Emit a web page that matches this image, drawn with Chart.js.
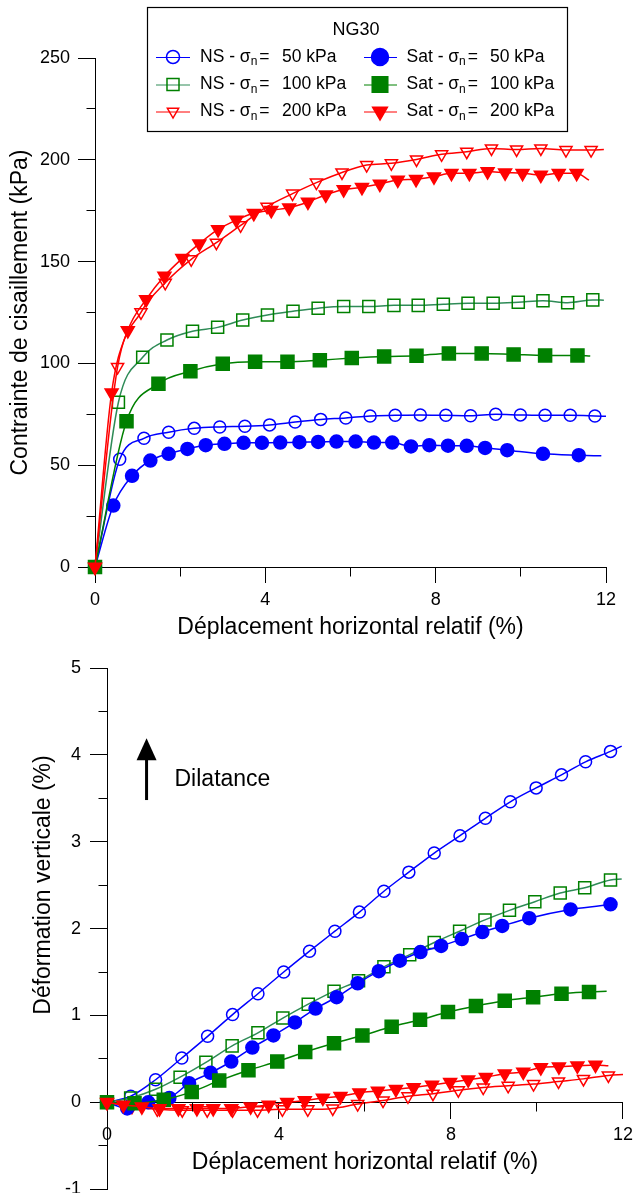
<!DOCTYPE html>
<html>
<head>
<meta charset="utf-8">
<script src="https://cdn.jsdelivr.net/npm/chart.js@4.4.1/dist/chart.umd.min.js"></script>
<style>
  html, body { margin: 0; padding: 0; background: #fff; }
  #wrap { position: relative; width: 639px; height: 1193px; overflow: hidden; }
  canvas { position: absolute; left: 0; }
</style>
</head>
<body>
<div id="wrap">
  <canvas id="shear" width="639" height="645" style="top:0"></canvas>
  <canvas id="dilat" width="639" height="564" style="top:645px"></canvas>
</div>
<script>
// ---- axis ticks ----
const dispTicks = [0, 4, 8, 12];
const dispMinor = [2, 6, 10];
const shearTicks = [0, 50, 100, 150, 200, 250];
const shearMinor = [25, 75, 125, 175, 225];
const dilTicks = [-1, 0, 1, 2, 3, 4, 5];
const dilMinor = [-0.5, 0.5, 1.5, 2.5, 3.5, 4.5];

// ---- shear stress vs horizontal displacement (last point = end of curve, no marker) ----
const shearNS50X = [0, 0.58, 1.15, 1.73, 2.33, 2.93, 3.52, 4.10, 4.70, 5.30, 5.89, 6.46, 7.05, 7.64, 8.24, 8.82, 9.41, 9.99, 10.57, 11.16, 11.74, 12.0];
const shearNS50Y = [0, 52.9, 63.2, 66.2, 68.1, 68.8, 69.1, 69.8, 71.2, 72.5, 73.2, 74.2, 74.5, 74.7, 74.5, 74.3, 75.0, 74.7, 74.5, 74.5, 74.2, 74.0];
const shearSat50X = [0, 0.43, 0.87, 1.30, 1.73, 2.17, 2.60, 3.04, 3.49, 3.92, 4.35, 4.80, 5.24, 5.67, 6.12, 6.55, 6.98, 7.42, 7.85, 8.29, 8.73, 9.16, 9.68, 10.52, 11.36, 11.89];
const shearSat50Y = [0, 30.2, 44.8, 52.3, 55.6, 58.0, 59.8, 60.5, 61.0, 61.0, 61.1, 61.3, 61.4, 61.6, 61.6, 61.1, 61.1, 59.2, 59.8, 59.6, 59.5, 58.5, 57.4, 55.6, 54.9, 54.6];
const shearNS100X = [0, 0.55, 1.12, 1.69, 2.29, 2.88, 3.47, 4.05, 4.65, 5.24, 5.84, 6.43, 7.02, 7.59, 8.18, 8.76, 9.35, 9.94, 10.52, 11.10, 11.69, 11.95];
const shearNS100Y = [0, 80.9, 103.0, 111.5, 115.8, 117.7, 121.3, 123.8, 125.6, 127.1, 127.9, 127.9, 128.5, 128.5, 129.1, 129.5, 129.5, 130.0, 130.8, 129.8, 131.2, 131.0];
const shearSat100X = [0, 0.74, 1.49, 2.24, 3.00, 3.76, 4.52, 5.28, 6.03, 6.79, 7.55, 8.31, 9.08, 9.83, 10.57, 11.33, 11.63];
const shearSat100Y = [0, 71.6, 90.0, 96.1, 99.8, 100.8, 100.8, 101.6, 102.6, 103.4, 103.8, 104.9, 104.9, 104.4, 103.9, 103.9, 103.6];
const shearNS200X = [0, 0.53, 1.08, 1.65, 2.26, 2.85, 3.42, 4.04, 4.64, 5.20, 5.80, 6.38, 6.96, 7.55, 8.14, 8.73, 9.31, 9.90, 10.47, 11.06, 11.65, 11.95];
const shearNS200Y = [0, 98.2, 125.1, 139.6, 151.1, 159.3, 167.8, 177.0, 183.4, 188.8, 193.8, 197.4, 198.3, 200.2, 202.7, 204.0, 205.6, 205.1, 205.6, 204.8, 204.8, 205.1];
const shearSat200X = [0, 0.39, 0.77, 1.20, 1.63, 2.05, 2.45, 2.89, 3.32, 3.73, 4.14, 4.56, 5.00, 5.42, 5.84, 6.27, 6.69, 7.11, 7.54, 7.96, 8.37, 8.79, 9.22, 9.63, 10.04, 10.47, 10.89, 11.31, 11.60];
const shearSat200Y = [0, 85.6, 116.2, 131.4, 142.9, 151.6, 158.8, 165.8, 170.4, 173.7, 175.2, 176.5, 179.3, 182.8, 185.4, 186.5, 188.1, 190.1, 190.4, 191.7, 193.4, 193.4, 194.2, 193.7, 193.4, 192.5, 193.4, 193.4, 190.0];

// ---- vertical strain vs horizontal displacement ----
const dilNS50X = [0, 0.55, 1.13, 1.74, 2.34, 2.92, 3.51, 4.11, 4.71, 5.30, 5.87, 6.44, 7.02, 7.61, 8.21, 8.80, 9.38, 9.98, 10.57, 11.13, 11.71, 11.97];
const dilNS50Y = [0, 0.07, 0.26, 0.51, 0.76, 1.01, 1.25, 1.50, 1.74, 1.97, 2.19, 2.43, 2.65, 2.87, 3.07, 3.27, 3.46, 3.62, 3.77, 3.92, 4.04, 4.10];
const dilSat50X = [0, 0.47, 0.96, 1.45, 1.91, 2.41, 2.89, 3.38, 3.87, 4.37, 4.85, 5.34, 5.83, 6.32, 6.81, 7.29, 7.77, 8.25, 8.73, 9.19, 9.82, 10.78, 11.71, 11.80];
const dilSat50Y = [0, -0.07, 0.0, 0.05, 0.22, 0.34, 0.47, 0.63, 0.77, 0.92, 1.08, 1.21, 1.37, 1.51, 1.63, 1.73, 1.80, 1.88, 1.96, 2.03, 2.12, 2.22, 2.28, 2.29];
const dilNS100X = [0, 0.55, 1.13, 1.70, 2.30, 2.91, 3.51, 4.09, 4.68, 5.28, 5.85, 6.44, 7.04, 7.61, 8.20, 8.79, 9.36, 9.95, 10.54, 11.11, 11.71, 11.97];
const dilNS100Y = [0, 0.05, 0.15, 0.29, 0.46, 0.65, 0.80, 0.97, 1.13, 1.28, 1.40, 1.56, 1.70, 1.84, 1.97, 2.10, 2.21, 2.31, 2.41, 2.47, 2.56, 2.57];
const dilSat100X = [0, 0.64, 1.32, 1.97, 2.61, 3.29, 3.96, 4.61, 5.28, 5.94, 6.62, 7.28, 7.93, 8.58, 9.25, 9.91, 10.57, 11.21, 11.62];
const dilSat100Y = [0, -0.01, 0.03, 0.12, 0.25, 0.37, 0.47, 0.58, 0.68, 0.77, 0.87, 0.95, 1.04, 1.11, 1.17, 1.21, 1.25, 1.27, 1.28];
const dilNS200X = [0, 0.58, 1.17, 1.75, 2.33, 2.92, 3.50, 4.08, 4.67, 5.25, 5.83, 6.42, 7.00, 7.58, 8.17, 8.75, 9.33, 9.92, 10.50, 11.08, 11.66, 12.0];
const dilNS200Y = [0, -0.05, -0.08, -0.09, -0.09, -0.09, -0.09, -0.08, -0.08, -0.07, -0.02, 0.02, 0.07, 0.10, 0.14, 0.17, 0.19, 0.21, 0.24, 0.27, 0.31, 0.32];
const dilSat200X = [0, 0.38, 0.81, 1.22, 1.66, 2.09, 2.47, 2.89, 3.34, 3.76, 4.19, 4.60, 5.02, 5.43, 5.87, 6.30, 6.72, 7.13, 7.56, 7.98, 8.40, 8.81, 9.25, 9.68, 10.09, 10.51, 10.94, 11.36, 11.66];
const dilSat200Y = [0, -0.03, -0.05, -0.07, -0.07, -0.07, -0.07, -0.07, -0.05, -0.03, 0.0, 0.02, 0.05, 0.07, 0.11, 0.13, 0.15, 0.17, 0.20, 0.23, 0.26, 0.29, 0.33, 0.35, 0.40, 0.41, 0.42, 0.43, 0.42];

// legend text
const legendTitle = 'NG30';
const legendPrefix = ['NS - σ', 'Sat - σ'];
const legendLoads = ['50 kPa', '100 kPa', '200 kPa'];

// dilatance annotation (data units)
const arrowX = 0.92, arrowFrom = 3.48, arrowTip = 4.19;
const noteX = 1.57, noteY = 3.71, noteText = 'Dilatance';

const FONT = "'Liberation Sans', Arial, Helvetica, sans-serif";
Chart.defaults.font.family = FONT;
Chart.defaults.color = '#000';

const BLUE = '#0000ff', GREEN = '#008000', GREEN_LINE = '#2e8b57', RED = '#ff0000';

// marker specs, same order for both charts: NS50, NS100, NS200, Sat50, Sat100, Sat200
const styles = [
  { color: BLUE, line: BLUE, shape: 'circle', rot: 0, r: 6, filled: false },
  { color: GREEN, line: GREEN_LINE, shape: 'rect', rot: 0, r: 8.5, filled: false },
  { color: RED, line: RED, shape: 'triangle', rot: 180, r: 7, filled: false },
  { color: BLUE, line: BLUE, shape: 'circle', rot: 0, r: 6.5, filled: true },
  { color: GREEN, line: GREEN, shape: 'rect', rot: 0, r: 9.2, filled: true },
  { color: RED, line: RED, shape: 'triangle', rot: 180, r: 7.5, filled: true }
];

function makeDataset(xs, ys, st, i) {
  const last = xs.length - 1;
  return {
    data: xs.map((x, k) => ({ x: x, y: ys[k] })),
    order: 5 - i,
    showLine: true,
    borderColor: st.line,
    borderWidth: 1.5,
    cubicInterpolationMode: 'monotone',
    pointStyle: st.shape,
    pointRotation: st.rot,
    pointRadius: ctx => ctx.dataIndex === last ? 0 : st.r,
    pointHoverRadius: ctx => ctx.dataIndex === last ? 0 : st.r,
    pointBackgroundColor: st.filled ? st.color : 'rgba(0,0,0,0)',
    pointBorderColor: st.color,
    pointBorderWidth: 1.5,
    clip: false
  };
}

function alignPx(p) { return Math.round(p - 0.5) + 0.5; }

// minor ticks, shorter than the major ones drawn by Chart.js
const minorTicks = {
  id: 'minorTicks',
  afterDraw(chart, args, opts) {
    const ctx = chart.ctx, xs = chart.scales.x, ys = chart.scales.y;
    const axisX = alignPx(chart.chartArea.left);
    const axisY = alignPx(opts.xAxisAt === undefined ? chart.chartArea.bottom : ys.getPixelForValue(opts.xAxisAt));
    ctx.save();
    ctx.strokeStyle = '#000';
    ctx.lineWidth = 1;
    ctx.beginPath();
    opts.y.forEach(v => {
      const p = alignPx(ys.getPixelForValue(v));
      ctx.moveTo(axisX - opts.len, p); ctx.lineTo(axisX, p);
    });
    opts.x.forEach(v => {
      const p = alignPx(xs.getPixelForValue(v));
      ctx.moveTo(p, axisY); ctx.lineTo(p, axisY + opts.len);
    });
    ctx.stroke();
    ctx.restore();
  }
};

function drawMarker(ctx, st, x, y, r) {
  ctx.beginPath();
  if (st.shape === 'circle') {
    ctx.arc(x, y, r, 0, Math.PI * 2);
  } else if (st.shape === 'rect') {
    const s = r * Math.SQRT1_2;
    ctx.rect(x - s, y - s, 2 * s, 2 * s);
  } else {
    ctx.moveTo(x, y + r);
    ctx.lineTo(x - r * 0.866, y - r / 2);
    ctx.lineTo(x + r * 0.866, y - r / 2);
    ctx.closePath();
  }
  if (st.filled) { ctx.fillStyle = st.color; ctx.fill(); }
  ctx.lineWidth = 1.5;
  ctx.strokeStyle = st.color;
  ctx.stroke();
}

// boxed legend with subscripts (sigma_n)
const boxLegend = {
  id: 'boxLegend',
  afterDraw(chart) {
    const ctx = chart.ctx;
    ctx.save();
    ctx.fillStyle = '#fff';
    ctx.fillRect(147.5, 7.5, 420, 124);
    ctx.strokeStyle = '#000';
    ctx.lineWidth = 1.2;
    ctx.strokeRect(147.5, 7.5, 420, 124);
    ctx.fillStyle = '#000';
    ctx.textBaseline = 'middle';
    ctx.textAlign = 'center';
    ctx.font = '18px ' + FONT;
    ctx.fillText(legendTitle, 356, 30);
    ctx.textAlign = 'left';
    const rows = [57, 84.5, 111.5];
    const cols = [
      { l0: 156, l1: 190, mx: 173, tx: 200, vx: 282 },
      { l0: 364, l1: 397, mx: 380, tx: 406.5, vx: 490 }
    ];
    cols.forEach((c, ci) => {
      rows.forEach((ry, ri) => {
        const st = styles[ci * 3 + ri];
        ctx.strokeStyle = st.line;
        ctx.lineWidth = 1;
        ctx.beginPath(); ctx.moveTo(c.l0, ry + 0.5); ctx.lineTo(c.l1, ry + 0.5); ctx.stroke();
        drawMarker(ctx, st, c.mx, ry, st.filled ? (st.shape === 'rect' ? 11 : 8.5) : (st.shape === 'rect' ? 8.5 : 6.5));
        ctx.fillStyle = '#000';
        ctx.font = '17.5px ' + FONT;
        const pre = legendPrefix[ci];
        ctx.fillText(pre, c.tx, ry);
        const w = ctx.measureText(pre).width;
        ctx.font = '12px ' + FONT;
        ctx.fillText('n', c.tx + w, ry + 5);
        const wn = ctx.measureText('n').width;
        ctx.font = '17.5px ' + FONT;
        ctx.fillText('=', c.tx + w + wn + 2, ry);
        ctx.fillText(legendLoads[ri], c.vx, ry);
      });
    });
    ctx.restore();
  }
};

// arrow + "Dilatance" note + y title of the lower chart
const dilNotes = {
  id: 'dilNotes',
  afterDraw(chart) {
    const ctx = chart.ctx, xs = chart.scales.x, ys = chart.scales.y;
    const ax = xs.getPixelForValue(arrowX);
    const y0 = ys.getPixelForValue(arrowFrom), y1 = ys.getPixelForValue(arrowTip);
    ctx.save();
    ctx.strokeStyle = '#000';
    ctx.fillStyle = '#000';
    ctx.lineWidth = 3;
    ctx.beginPath(); ctx.moveTo(ax, y0); ctx.lineTo(ax, y1 + 18); ctx.stroke();
    ctx.beginPath();
    ctx.moveTo(ax, y1); ctx.lineTo(ax - 10, y1 + 22); ctx.lineTo(ax + 10, y1 + 22);
    ctx.closePath(); ctx.fill();
    ctx.font = '23px ' + FONT;
    ctx.textBaseline = 'middle';
    ctx.textAlign = 'left';
    ctx.fillText(noteText, xs.getPixelForValue(noteX), ys.getPixelForValue(noteY));
    ctx.translate(44, 240);
    ctx.rotate(-Math.PI / 2);
    ctx.textAlign = 'center';
    ctx.fillText('Déformation verticale (%)', 0, 0);
    ctx.restore();
  }
};

function axisX(ticks, titleText, position, height) {
  return {
    type: 'linear', min: 0, max: 12, position: position,
    afterBuildTicks: s => { s.ticks = ticks.map(v => ({ value: v })); },
    afterFit: s => { s.height = height; },
    grid: { display: true, drawOnChartArea: false, drawTicks: true, tickLength: 16, color: '#000', lineWidth: 1 },
    border: { display: true, color: '#000', width: 1 },
    ticks: { padding: 6, color: '#000', font: { size: 18 }, maxRotation: 0, autoSkip: false },
    title: { display: true, text: titleText, color: '#000', font: { size: 23 }, padding: { top: 0, bottom: 4 } }
  };
}

function axisY(ticks, min, max, width, pad, titleText) {
  return {
    type: 'linear', min: min, max: max,
    afterBuildTicks: s => { s.ticks = ticks.map(v => ({ value: v })); },
    afterFit: s => { s.width = width; },
    grid: { display: true, drawOnChartArea: false, drawTicks: true, tickLength: 17, color: '#000', lineWidth: 1 },
    border: { display: true, color: '#000', width: 1 },
    ticks: { padding: pad, color: '#000', font: { size: 18 }, autoSkip: false },
    title: { display: !!titleText, text: titleText || '', color: '#000', font: { size: 23 }, padding: { top: 7, bottom: 0 } }
  };
}

const shearSeries = [
  [shearNS50X, shearNS50Y], [shearNS100X, shearNS100Y], [shearNS200X, shearNS200Y],
  [shearSat50X, shearSat50Y], [shearSat100X, shearSat100Y], [shearSat200X, shearSat200Y]
];
const dilSeries = [
  [dilNS50X, dilNS50Y], [dilNS100X, dilNS100Y], [dilNS200X, dilNS200Y],
  [dilSat50X, dilSat50Y], [dilSat100X, dilSat100Y], [dilSat200X, dilSat200Y]
];

new Chart(document.getElementById('shear'), {
  type: 'scatter',
  data: { datasets: shearSeries.map((s, i) => makeDataset(s[0], s[1], styles[i], i)) },
  options: {
    responsive: false, animation: false, events: [], devicePixelRatio: 1,
    layout: { padding: { left: 0, top: 58, right: 33, bottom: 0 } },
    scales: {
      x: axisX(dispTicks, 'Déplacement horizontal relatif (%)', 'bottom', 78),
      y: axisY(shearTicks, 0, 250, 95, 8, 'Contrainte de cisaillement (kPa)')
    },
    plugins: {
      legend: { display: false }, tooltip: { enabled: false },
      minorTicks: { x: dispMinor, y: shearMinor, len: 9 }
    }
  },
  plugins: [minorTicks, boxLegend]
});

new Chart(document.getElementById('dilat'), {
  type: 'scatter',
  data: { datasets: dilSeries.map((s, i) => makeDataset(s[0], s[1], styles[i], i)) },
  options: {
    responsive: false, animation: false, events: [], devicePixelRatio: 1,
    layout: { padding: { left: 0, top: 23, right: 7, bottom: 5 } },
    scales: {
      x: axisX(dispTicks, 'Déplacement horizontal relatif (%)', { y: 0 }, 78),
      y: axisY(dilTicks, -1, 5, 107, 9, null)
    },
    plugins: {
      legend: { display: false }, tooltip: { enabled: false },
      minorTicks: { x: dispMinor, y: dilMinor, len: 9, xAxisAt: 0 }
    }
  },
  plugins: [minorTicks, dilNotes]
});
</script>
</body>
</html>
